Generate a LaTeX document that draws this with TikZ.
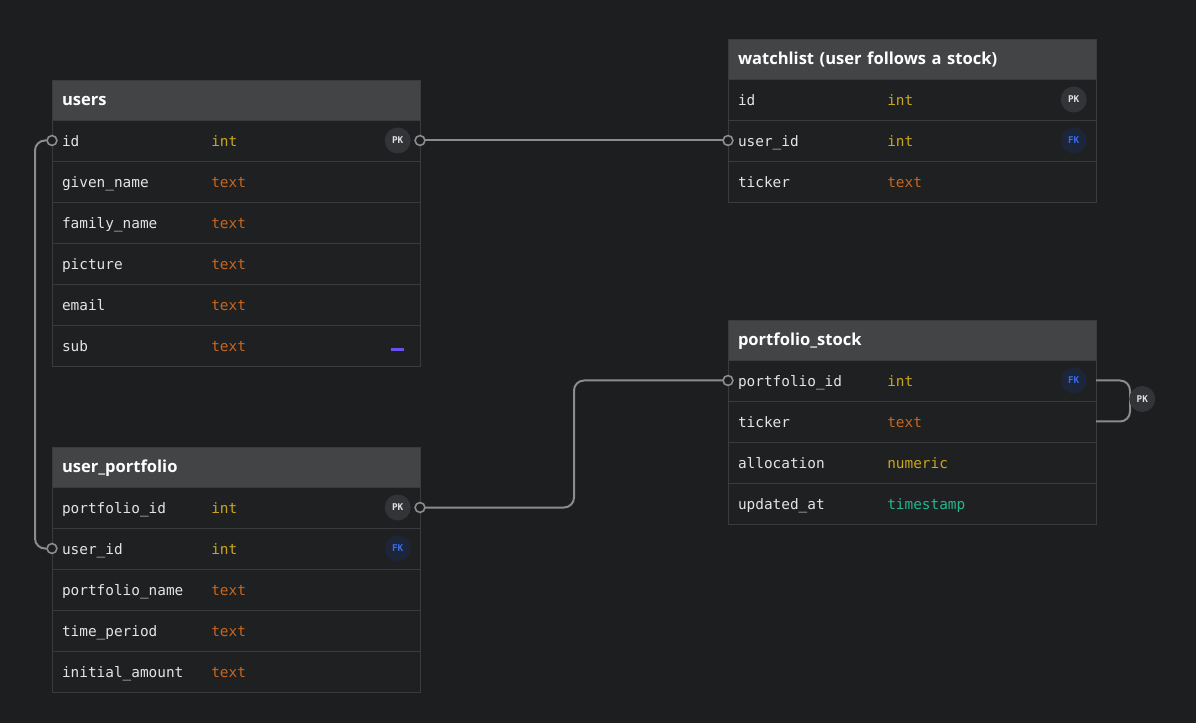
\documentclass[tikz,border=0pt]{standalone}
\usepackage{fontspec}
\setmainfont{Open Sans}
\setmonofont{DejaVu Sans Mono}
\usetikzlibrary{positioning}
\definecolor{canvas}{HTML}{1D1E20}
\definecolor{headgray}{HTML}{434446}
\definecolor{rowgray}{HTML}{1F2022}
\definecolor{rule}{HTML}{3A3B3D}
\definecolor{fieldtext}{HTML}{E4E4E4}
\definecolor{inttype}{HTML}{C9A61C}
\definecolor{texttype}{HTML}{C8661E}
\definecolor{timetype}{HTML}{26B58C}
\definecolor{pkfill}{HTML}{333437}
\definecolor{pktext}{HTML}{E0E0E0}
\definecolor{fkfill}{HTML}{1C2638}
\definecolor{fktext}{HTML}{3A6BEB}
\definecolor{wire}{HTML}{8C8C8C}
\definecolor{uniq}{HTML}{6D4FEF}
\tikzset{
  tblhead/.style={anchor=north west, fill=headgray, draw=rule, outer sep=0pt,
    minimum height=30pt, text height=10pt, text depth=1pt,
    text width=261pt, inner xsep=7.5pt, align=left, text=white,
    font=\bfseries\fontsize{12.4}{14}\selectfont},
  tblrow/.style={fill=rowgray, draw=rule, outer sep=0pt, minimum height=30.75pt,
    text height=9.5pt, text depth=0pt, text width=261pt,
    inner xsep=7.5pt, align=left, text=fieldtext,
    font=\ttfamily\fontsize{10.8}{12}\selectfont, below=0pt of #1},
  coltype/.style={inner sep=0pt, text height=9.5pt, text depth=0pt,
    font=\ttfamily\fontsize{10.8}{12}\selectfont, right=119.25pt of #1.west},
  pkbadge/.style={circle, fill=pkfill, text=pktext, minimum size=19.5pt, inner sep=0pt,
    font=\ttfamily\bfseries\fontsize{7}{8}\selectfont},
  fkbadge/.style={pkbadge, fill=fkfill, text=fktext},
  conn/.style={draw=wire, line width=1.5pt, rounded corners=7.5pt},
  endpt/.style={draw=wire, fill=canvas, line width=1.2pt}
}
\begin{document}
\begin{tikzpicture}[x=0.75pt, y=-0.75pt]
      \fill[canvas] (0,0) rectangle (1196,723);
      % users
      \node[tblhead] (users) at (52,80) {users};
      \node[tblrow=users] (users-id) {id};
      \node[tblrow=users-id] (users-given) {given\_name};
      \node[tblrow=users-given] (users-family) {family\_name};
      \node[tblrow=users-family] (users-pic) {picture};
      \node[tblrow=users-pic] (users-email) {email};
      \node[tblrow=users-email] (users-sub) {sub};
      \node[coltype=users-id, text=inttype] (users-id-t) {int};
      \node[coltype=users-given, text=texttype] (users-given-t) {text};
      \node[coltype=users-family, text=texttype] (users-family-t) {text};
      \node[coltype=users-pic, text=texttype] (users-pic-t) {text};
      \node[coltype=users-email, text=texttype] (users-email-t) {text};
      \node[coltype=users-sub, text=texttype] (users-sub-t) {text};
      \node[pkbadge, left=6.75pt of users-id.east] (users-id-k) {PK};
      \node[fill=uniq, inner sep=0pt, minimum width=9.75pt, minimum height=1.9pt,
        left=12pt of users-sub.east, yshift=-3pt] (users-sub-k) {};
      % user_portfolio
      \node[tblhead] (up) at (52,447) {user\_portfolio};
      \node[tblrow=up] (up-pid) {portfolio\_id};
      \node[tblrow=up-pid] (up-user) {user\_id};
      \node[tblrow=up-user] (up-name) {portfolio\_name};
      \node[tblrow=up-name] (up-period) {time\_period};
      \node[tblrow=up-period] (up-amount) {initial\_amount};
      \node[coltype=up-pid, text=inttype] (up-pid-t) {int};
      \node[coltype=up-user, text=inttype] (up-user-t) {int};
      \node[coltype=up-name, text=texttype] (up-name-t) {text};
      \node[coltype=up-period, text=texttype] (up-period-t) {text};
      \node[coltype=up-amount, text=texttype] (up-amount-t) {text};
      \node[pkbadge, left=6.75pt of up-pid.east] (up-pid-k) {PK};
      \node[fkbadge, left=6.75pt of up-user.east] (up-user-k) {FK};
      % watchlist
      \node[tblhead] (watch) at (728,39) {watchlist (user follows a stock)};
      \node[tblrow=watch] (watch-id) {id};
      \node[tblrow=watch-id] (watch-user) {user\_id};
      \node[tblrow=watch-user] (watch-ticker) {ticker};
      \node[coltype=watch-id, text=inttype] (watch-id-t) {int};
      \node[coltype=watch-user, text=inttype] (watch-user-t) {int};
      \node[coltype=watch-ticker, text=texttype] (watch-ticker-t) {text};
      \node[pkbadge, left=6.75pt of watch-id.east] (watch-id-k) {PK};
      \node[fkbadge, left=6.75pt of watch-user.east] (watch-user-k) {FK};
      % portfolio_stock
      \node[tblhead] (ps) at (728,320) {portfolio\_stock};
      \node[tblrow=ps] (ps-pid) {portfolio\_id};
      \node[tblrow=ps-pid] (ps-ticker) {ticker};
      \node[tblrow=ps-ticker] (ps-alloc) {allocation};
      \node[tblrow=ps-alloc] (ps-upd) {updated\_at};
      \node[coltype=ps-pid, text=inttype] (ps-pid-t) {int};
      \node[coltype=ps-ticker, text=texttype] (ps-ticker-t) {text};
      \node[coltype=ps-alloc, text=inttype] (ps-alloc-t) {numeric};
      \node[coltype=ps-upd, text=timetype] (ps-upd-t) {timestamp};
      \node[fkbadge, left=6.75pt of ps-pid.east] (ps-pid-k) {FK};
      % relations
      \draw[conn] (users-id.east) -- (watch-user.west);
      \draw[conn] (users-id.west) -- ++(-17,0) |- (up-user.west);
      \draw[conn] (up-pid.east) -- ++(154,0) |- (ps-pid.west);
      \draw[conn] (ps-pid.east) -- ++(34,0) |- (ps-ticker.east);
      \node[pkbadge, right=24.75pt of ps-pid.south east, yshift=1.5pt] (ps-self-k) {PK};
      \draw[endpt] (users-id.east) circle[radius=3.7pt];
      \draw[endpt] (users-id.west) circle[radius=3.7pt];
      \draw[endpt] (watch-user.west) circle[radius=3.7pt];
      \draw[endpt] (up-user.west) circle[radius=3.7pt];
      \draw[endpt] (up-pid.east) circle[radius=3.7pt];
      \draw[endpt] (ps-pid.west) circle[radius=3.7pt];
\end{tikzpicture}
\end{document}
